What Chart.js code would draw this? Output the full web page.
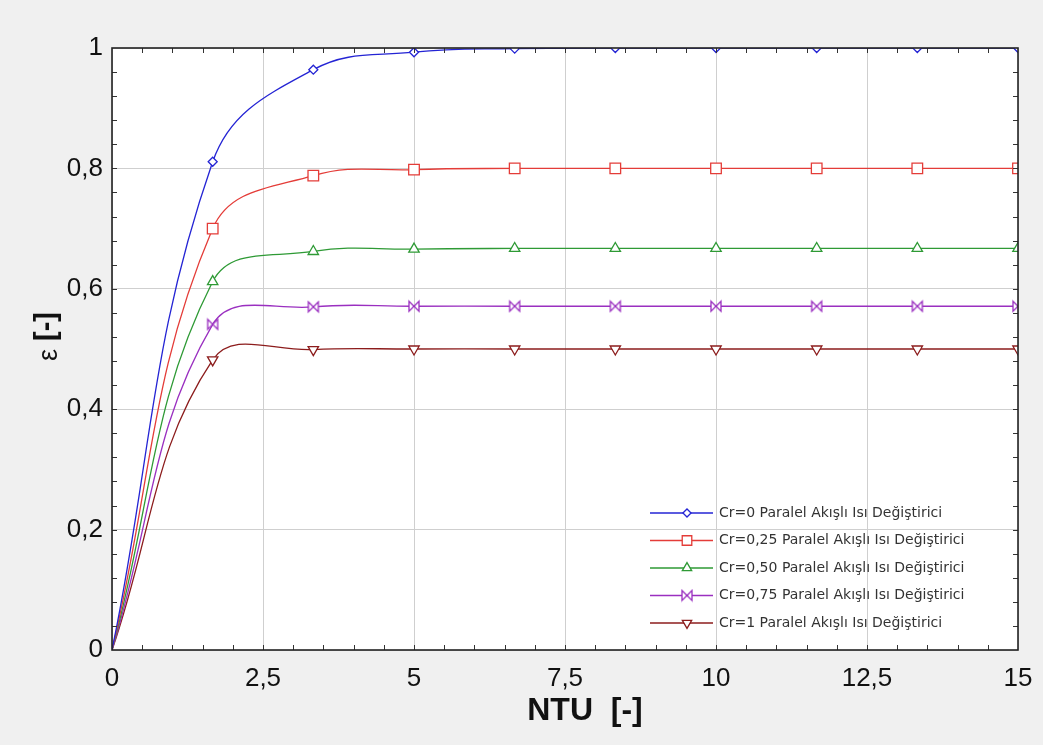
<!DOCTYPE html>
<html>
<head>
<meta charset="utf-8">
<script src="https://cdn.jsdelivr.net/npm/chart.js@4"></script>
<style>
  html, body { margin: 0; padding: 0; background: #f0f0f0; }
  #wrap { width: 1043px; height: 745px; }
</style>
</head>
<body>
<div id="wrap"><canvas id="myChart" width="1043" height="745"></canvas></div>
<script>
// data
const ntu = [0, 1.667, 3.333, 5, 6.667, 8.333, 10, 11.667, 13.333, 15];
const cr0 = [0, 0.811, 0.964, 0.993, 0.999, 1.0, 1.0, 1.0, 1.0, 1.0];
const cr025 = [0, 0.700, 0.788, 0.798, 0.800, 0.800, 0.800, 0.800, 0.800, 0.800];
const cr050 = [0, 0.612, 0.662, 0.666, 0.667, 0.667, 0.667, 0.667, 0.667, 0.667];
const cr075 = [0, 0.541, 0.570, 0.571, 0.571, 0.571, 0.571, 0.571, 0.571, 0.571];
const cr1 = [0, 0.482, 0.499, 0.500, 0.500, 0.500, 0.500, 0.500, 0.500, 0.500];
const seriesLabels = [
  "Cr=0 Paralel Akışlı Isı Değiştirici",
  "Cr=0,25 Paralel Akışlı Isı Değiştirici",
  "Cr=0,50 Paralel Akışlı Isı Değiştirici",
  "Cr=0,75 Paralel Akışlı Isı Değiştirici",
  "Cr=1 Paralel Akışlı Isı Değiştirici",
];
const xTicks = [0, 2.5, 5, 7.5, 10, 12.5, 15];
const yTicks = [0, 0.2, 0.4, 0.6, 0.8, 1];

// bowtie marker for Cr=0.75
function bowtie(color) {
  const c = document.createElement("canvas");
  c.width = 14; c.height = 14;
  const g = c.getContext("2d");
  g.fillStyle = "#fff";
  g.strokeStyle = color;
  g.lineWidth = 1.3;
  g.beginPath();
  g.moveTo(2, 2); g.lineTo(7, 7); g.lineTo(2, 12); g.closePath();
  g.moveTo(12, 2); g.lineTo(7, 7); g.lineTo(12, 12); g.closePath();
  g.fill(); g.stroke();
  return c;
}

const colors = ["#2424d4", "#e43c38", "#2e9a35", "#9a2fc0", "#8c1c1c"];
const styles = [
  { pointStyle: "rectRot", radius: 4.5, rotation: 0 },
  { pointStyle: "rect", radius: 7.5, rotation: 0 },
  { pointStyle: "triangle", radius: 6, rotation: 0 },
  { pointStyle: bowtie(colors[3]), radius: 6, rotation: 0 },
  { pointStyle: "triangle", radius: 6, rotation: 180 },
];
const allSeries = [cr0, cr025, cr050, cr075, cr1];

function fmt(v) {
  return String(Number(v.toFixed(2))).replace(".", ",");
}

const datasets = allSeries.map((vals, i) => ({
  label: seriesLabels[i],
  data: ntu.map((x, k) => ({ x: x, y: vals[k] })),
  borderColor: colors[i],
  backgroundColor: "#ffffff",
  borderWidth: 1.3,
  tension: 0.4,
  pointStyle: styles[i].pointStyle,
  pointRotation: styles[i].rotation,
  pointRadius: ntu.map((x, k) => (k === 0 ? 0 : styles[i].radius)),
  pointBorderWidth: 1.3,
  pointBackgroundColor: "#ffffff",
  pointBorderColor: colors[i],
}));

// white plot area, frame, minor ticks inside, legend inside, axis titles
const plotDecor = {
  id: "plotDecor",
  beforeDraw(chart) {
    const { ctx, chartArea: a } = chart;
    ctx.save();
    ctx.fillStyle = "#ffffff";
    ctx.fillRect(a.left, a.top, a.right - a.left, a.bottom - a.top);
    ctx.restore();
  },
  afterDraw(chart) {
    const { ctx, chartArea: a, scales } = chart;
    ctx.save();
    ctx.strokeStyle = "#333";
    ctx.lineWidth = 1;
    ctx.beginPath();
    for (let v = 0.5; v < 15; v += 0.5) {
      const px = Math.round(scales.x.getPixelForValue(v)) + 0.5;
      ctx.moveTo(px, a.bottom); ctx.lineTo(px, a.bottom - 5);
      ctx.moveTo(px, a.top); ctx.lineTo(px, a.top + 5);
    }
    for (let v = 0.04; v < 0.999; v += 0.04) {
      const py = Math.round(scales.y.getPixelForValue(v)) + 0.5;
      ctx.moveTo(a.left, py); ctx.lineTo(a.left + 5, py);
      ctx.moveTo(a.right, py); ctx.lineTo(a.right - 5, py);
    }
    ctx.stroke();
    ctx.lineWidth = 1.6;
    ctx.strokeStyle = "#222";
    ctx.strokeRect(a.left, a.top, a.right - a.left, a.bottom - a.top);

    // legend
    const lx = a.right - 368, ly = a.bottom - 137;
    ctx.font = "14px 'DejaVu Sans', sans-serif";
    ctx.textBaseline = "middle";
    ctx.textAlign = "left";
    chart.data.datasets.forEach((ds, i) => {
      const y = ly + i * 27.5;
      ctx.strokeStyle = ds.borderColor;
      ctx.lineWidth = 1.3;
      ctx.beginPath();
      ctx.moveTo(lx, y); ctx.lineTo(lx + 63, y);
      ctx.stroke();
      ctx.fillStyle = "#ffffff";
      ctx.strokeStyle = ds.borderColor;
      Chart.helpers.drawPoint(ctx, {
        pointStyle: ds.pointStyle,
        rotation: ds.pointRotation,
        radius: styles[i].radius * 0.9,
        borderWidth: 1.3,
      }, lx + 37, y);
      ctx.fillStyle = "#333";
      ctx.fillText(ds.label, lx + 69, y);
    });

    // x axis title
    ctx.fillStyle = "#111";
    ctx.textAlign = "center";
    ctx.textBaseline = "middle";
    ctx.font = "bold 32px 'Liberation Sans', Arial, sans-serif";
    ctx.fillText("NTU  [-]", 585, 711);

    // y axis title, rotated
    ctx.translate(47, 343);
    ctx.rotate(-Math.PI / 2);
    ctx.textAlign = "right";
    ctx.font = "27px 'Liberation Sans', Arial, sans-serif";
    ctx.fillText("ε", -6, 3);
    ctx.textAlign = "left";
    ctx.font = "bold 29px 'Liberation Sans', Arial, sans-serif";
    ctx.fillText("[-]", 2, 0);
    ctx.restore();
  },
};

const ctx = document.getElementById("myChart").getContext("2d");
const chart = new Chart(ctx, {
  type: "line",
  data: { datasets: datasets },
  options: {
    responsive: false,
    animation: false,
    layout: { padding: { left: 0, top: 48, right: 25, bottom: 0 } },
    plugins: { legend: { display: false }, tooltip: { enabled: false } },
    scales: {
      x: {
        type: "linear",
        min: 0,
        max: 15,
        afterBuildTicks: (s) => { s.ticks = xTicks.map((v) => ({ value: v })); },
        afterFit: (s) => { s.height = 95; s.paddingLeft = 0; s.paddingRight = 0; },
        grid: { color: "#cfcfcf", lineWidth: 1, drawTicks: false },
        border: { display: false },
        ticks: {
          padding: 13,
          color: "#111",
          font: { family: "'Liberation Sans', Arial, sans-serif", size: 26 },
          callback: (v) => fmt(v),
          maxRotation: 0,
        },
        title: { display: false },
      },
      y: {
        type: "linear",
        min: 0,
        max: 1,
        afterBuildTicks: (s) => { s.ticks = yTicks.map((v) => ({ value: v })); },
        afterFit: (s) => { s.width = 112; s.paddingTop = 0; s.paddingBottom = 0; },
        grid: { color: "#cfcfcf", lineWidth: 1, drawTicks: false },
        border: { display: false },
        ticks: {
          padding: 9,
          color: "#111",
          font: { family: "'Liberation Sans', Arial, sans-serif", size: 26 },
          callback: (v) => fmt(v),
        },
        title: { display: false },
      },
    },
  },
  plugins: [plotDecor],
});
</script>
</body>
</html>
